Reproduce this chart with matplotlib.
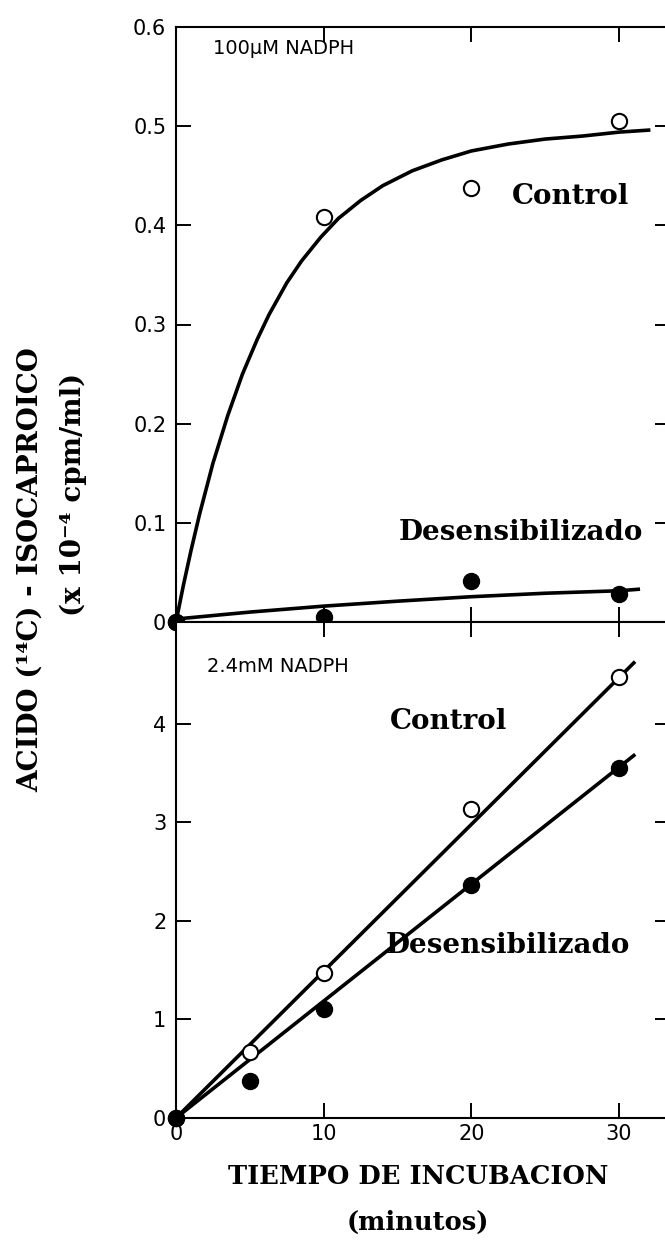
import matplotlib.pyplot as plt

# minutes of incubation
t_top = [0, 10, 20, 30]
t_bot = [0, 5, 10, 20, 30]

# 100 uM NADPH (x 10^-4 cpm/ml)
control_100 = [0, 0.408, 0.438, 0.505]
desens_100 = [0, 0.005, 0.041, 0.028]

# hand-drawn trend curves for the 100 uM panel
control_100_fit_t = [0, 0.5, 1, 1.6, 2.5, 3.5, 4.5, 5.5, 6.3, 7.5, 8.5, 9.8, 11,
                     12.5, 14, 16, 18, 20, 22.5, 25, 27.5, 30, 32]
control_100_fit = [0, 0.037, 0.071, 0.109, 0.160, 0.208, 0.250, 0.285, 0.310,
                   0.342, 0.364, 0.388, 0.407, 0.425, 0.440, 0.455, 0.466,
                   0.475, 0.482, 0.487, 0.490, 0.494, 0.496]
desens_100_fit_t = [0, 5, 10, 15, 20, 25, 30, 31.3]
desens_100_fit = [0.003, 0.010, 0.016, 0.021, 0.0255, 0.029, 0.0315, 0.033]

# 2.4 mM NADPH
control_24 = [0, 0.67, 1.47, 3.14, 4.48]
desens_24 = [0, 0.38, 1.107, 2.37, 3.55]
control_24_fit_t = [0, 31]
control_24_fit = [0, 4.62]
desens_24_fit_t = [0, 31]
desens_24_fit = [0, 3.68]

W, H = 665, 1253
SANS = "DejaVu Sans"
SERIF = "DejaVu Serif"


def px_box(left, right, top, bottom):
    return [left / W, (H - bottom) / H, (right - left) / W, (bottom - top) / H]


def style_axes(ax):
    for sp in ax.spines.values():
        sp.set_linewidth(1.5)
    ax.tick_params(direction="in", length=10.5, width=1.4, top=True, right=True,
                   labelsize=15, pad=7)
    for lab in ax.get_xticklabels() + ax.get_yticklabels():
        lab.set_fontfamily(SANS)


def open_pts(ax, x, y):
    ax.plot(x, y, linestyle="none", marker="o", ms=11, mfc="white", mec="black",
            mew=1.5, zorder=5, clip_on=False)


def filled_pts(ax, x, y):
    ax.plot(x, y, linestyle="none", marker="o", ms=11.5, mfc="black", mec="black",
            zorder=6, clip_on=False)


fig = plt.figure(figsize=(W / 100, H / 100), dpi=100)
ax1 = fig.add_axes(px_box(176, 670, 27, 622))
ax2 = fig.add_axes(px_box(176, 670, 622, 1118))

# upper panel
ax1.plot(control_100_fit_t, control_100_fit, color="black", lw=2.6, zorder=3)
ax1.plot(desens_100_fit_t, desens_100_fit, color="black", lw=2.6, zorder=3)
open_pts(ax1, t_top, control_100)
filled_pts(ax1, t_top, desens_100)
ax1.set_xlim(0, 33.45)
ax1.set_ylim(0, 0.6)
ax1.set_xticks([0, 10, 20, 30])
ax1.set_xticklabels([])
ax1.set_yticks([0, 0.1, 0.2, 0.3, 0.4, 0.5, 0.6])
ax1.set_yticklabels(["0", "0.1", "0.2", "0.3", "0.4", "0.5", "0.6"])
style_axes(ax1)
ax1.text(2.5, 0.578, "100μM NADPH", fontsize=14, family=SANS, va="center")
ax1.text(22.75, 0.429, "Control", fontsize=20, family=SERIF, weight="bold", va="center")
ax1.text(15.1, 0.0906, "Desensibilizado", fontsize=20, family=SERIF, weight="bold",
         va="center")

# lower panel
ax2.plot(control_24_fit_t, control_24_fit, color="black", lw=2.6, zorder=3)
ax2.plot(desens_24_fit_t, desens_24_fit, color="black", lw=2.6, zorder=3)
open_pts(ax2, t_bot, control_24)
filled_pts(ax2, t_bot, desens_24)
ax2.set_xlim(0, 33.45)
ax2.set_ylim(0, 5.035)
ax2.set_xticks([0, 10, 20, 30])
ax2.set_xticklabels(["0", "10", "20", "30"])
ax2.set_yticks([0, 1, 2, 3, 4])
ax2.set_yticklabels(["0", "1", "2", "3", "4"])
style_axes(ax2)
ax2.tick_params(axis="x", pad=4)
ax2.text(2.1, 4.58, "2.4mM NADPH", fontsize=14, family=SANS, va="center")
ax2.text(14.5, 4.02, "Control", fontsize=20, family=SERIF, weight="bold", va="center")
ax2.text(14.2, 1.756, "Desensibilizado", fontsize=20, family=SERIF, weight="bold",
         va="center")

# axis titles
fig.text(30 / W, 1 - 570 / H, "ACIDO (¹⁴C) - ISOCAPROICO", rotation=90,
         ha="center", va="center", fontsize=20, family=SERIF, weight="bold")
fig.text(73 / W, 1 - 494 / H, "(x 10⁻⁴ cpm/ml)", rotation=90,
         ha="center", va="center", fontsize=20, family=SERIF, weight="bold")
fig.text(418 / W, 1 - 1177 / H, "TIEMPO DE INCUBACION", ha="center", va="center",
         fontsize=18.5, family=SERIF, weight="bold")
fig.text(418 / W, 1 - 1222 / H, "(minutos)", ha="center", va="center",
         fontsize=18.5, family=SERIF, weight="bold")

fig.savefig("out.png", dpi=100)
